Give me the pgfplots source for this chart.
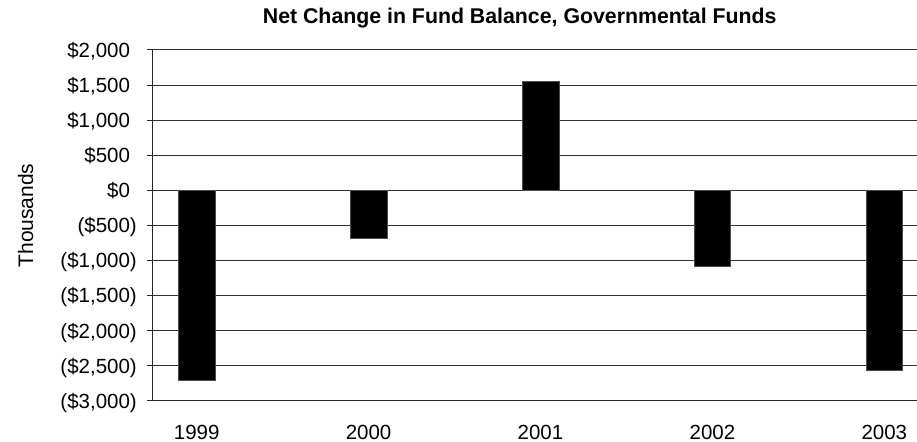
\documentclass[border=0pt]{standalone}
\usepackage{fontspec}
\setmainfont{Liberation Sans}
\usepackage{pgfplots}
\pgfplotsset{compat=1.18}
\begin{document}
\begin{tikzpicture}
\begin{axis}[
  name=ax, scale only axis, width=764bp, height=351bp,
  xmin=-0.254, xmax=4.19, ymin=-3000, ymax=2000,
  axis y line*=left, axis x line*=bottom,
  axis line style={black!85, line width=1bp},
  xtick={0,1,2,3,4}, xticklabels={1999,2000,2001,2002,2003},
  ytick={-3000,-2500,...,2000},
  yticklabels={{(\$3,000)},{(\$2,500)},{(\$2,000)},{(\$1,500)},{(\$1,000)},{(\$500)},{\$0\phantom{)}},{\$500\phantom{)}},{\$1,000\phantom{)}},{\$1,500\phantom{)}},{\$2,000\phantom{)}}},
  xtick style={draw=none},
  ytick style={black!85, line width=1bp},
  tick align=outside, major tick length=6bp,
  ymajorgrids, grid style={black!80, line width=1bp},
  xticklabel style={inner sep=0pt, anchor=north, yshift=-18bp, font=\fontsize{20.5bp}{24bp}\selectfont},
  yticklabel style={inner sep=0pt, anchor=base east, xshift=-10bp, yshift=-7.3bp, font=\fontsize{20.5bp}{24bp}\selectfont},
  title={Net Change in Fund Balance, Governmental Funds},
  title style={at={(axis description cs:0.480,1.058)}, anchor=base, inner sep=0pt, font=\bfseries\fontsize{21.3bp}{25bp}\selectfont},
  ylabel={Thousands},
  ylabel style={at={(axis description cs:-0.157,0.5285)}, anchor=base, inner sep=0pt, font=\fontsize{21bp}{25bp}\selectfont},
]
\addplot[ybar, bar width=36.5bp, bar shift=0pt, fill=black, draw=black!70, line width=0.5bp]
  coordinates {(0,-2700) (1,-675) (2,1555) (3,-1085) (4,-2555)};
\end{axis}
\pgfresetboundingbox
\path ([shift={(-153bp,-41bp)}]ax.south west) rectangle ([shift={(0bp,50bp)}]ax.north east);
\end{tikzpicture}
\end{document}
